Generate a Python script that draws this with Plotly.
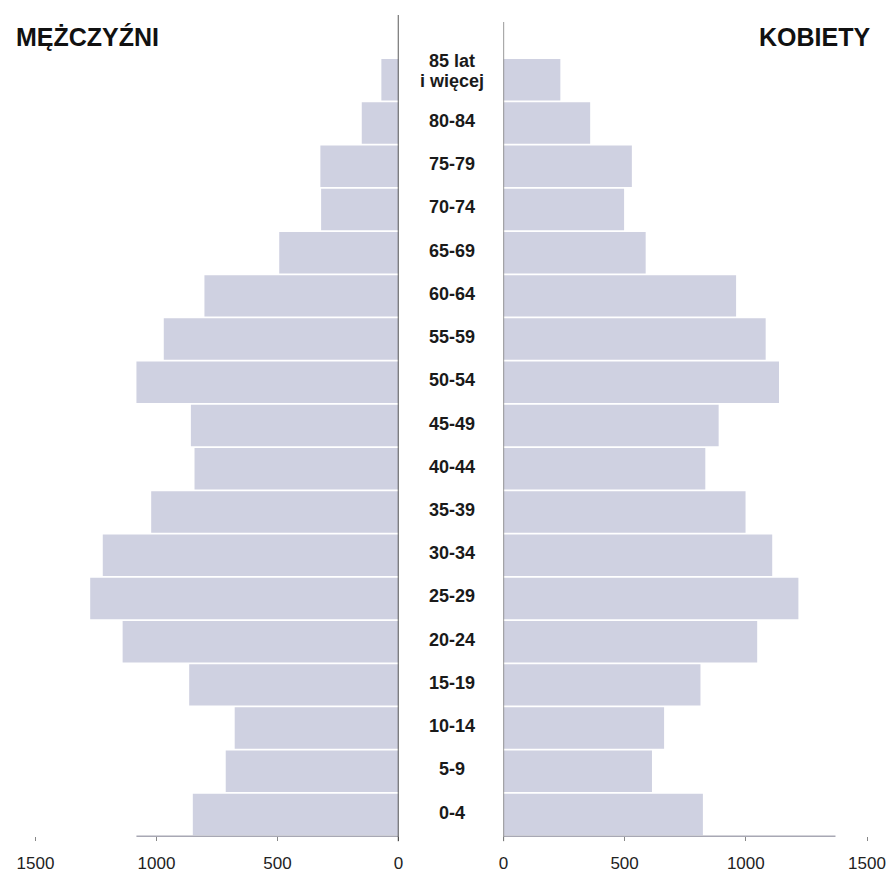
import plotly.graph_objects as go

age_groups = ["0-4", "5-9", "10-14", "15-19", "20-24", "25-29", "30-34", "35-39",
              "40-44", "45-49", "50-54", "55-59", "60-64", "65-69", "70-74", "75-79",
              "80-84", "85+"]
age_labels = ["0-4", "5-9", "10-14", "15-19", "20-24", "25-29", "30-34", "35-39",
              "40-44", "45-49", "50-54", "55-59", "60-64", "65-69", "70-74", "75-79",
              "80-84", "85 lat<br>i więcej"]
men = [850, 714, 677, 865, 1140, 1274, 1222, 1022, 843, 858, 1083, 970, 802, 493,
       320, 323, 152, 71]
women = [823, 613, 663, 813, 1047, 1217, 1109, 999, 833, 888, 1137, 1082, 960, 587,
         498, 530, 358, 235]
tick_vals = [0, 500, 1000, 1500]
tick_text = ["0", "500", "1000", "1500"]
title_men = "MĘŻCZYŹNI"
title_women = "KOBIETY"

W, H = 896, 873
BAR = "#cfd1e1"
FONT = "Liberation Sans, Arial, sans-serif"

def px_x(p):
    return p / W

def px_y(p):
    return (H - p) / H

fig = go.Figure()
fig.add_trace(go.Bar(y=age_groups, x=men, orientation="h", xaxis="x", yaxis="y",
                     marker=dict(color=BAR, line=dict(width=0)), showlegend=False,
                     hoverinfo="skip"))
fig.add_trace(go.Bar(y=age_groups, x=women, orientation="h", xaxis="x2", yaxis="y2",
                     marker=dict(color=BAR, line=dict(width=0)), showlegend=False,
                     hoverinfo="skip"))

y_dom = [px_y(840), px_y(15)]
common_x = dict(tickvals=tick_vals, ticktext=tick_text, ticks="outside", ticklen=4,
                tickcolor="#888", tickwidth=1, showgrid=False, zeroline=False,
                showline=False, tickfont=dict(family=FONT, size=17, color="#222"),
                ticklabelstandoff=7)
common_y = dict(type="category", categoryorder="array", categoryarray=age_groups,
                range=[-0.5, 18.5], showticklabels=False, ticks="", showgrid=False,
                zeroline=False, showline=False, domain=y_dom)

fig.update_layout(
    width=W, height=H, margin=dict(l=0, r=0, t=0, b=0),
    paper_bgcolor="white", plot_bgcolor="white", bargap=0.04,
    xaxis=dict(domain=[0, px_x(398)], range=[1626, 0], anchor="y", **common_x),
    xaxis2=dict(domain=[px_x(504), 1], range=[0, 1599], anchor="y2", **common_x),
    yaxis=dict(anchor="x", **common_y),
    yaxis2=dict(anchor="x2", **common_y),
)

# axis lines
fig.add_shape(type="line", xref="x", yref="paper", x0=1083, x1=0,
              y0=px_y(840), y1=px_y(840), line=dict(color="#a8a8b4", width=1.5))
fig.add_shape(type="line", xref="x2", yref="paper", x0=0, x1=1370,
              y0=px_y(840), y1=px_y(840), line=dict(color="#a8a8b4", width=1.5))
fig.add_shape(type="line", xref="x", yref="paper", x0=0, x1=0,
              y0=px_y(845), y1=px_y(15), line=dict(color="#222", width=1.5))
fig.add_shape(type="line", xref="x2", yref="paper", x0=0, x1=0,
              y0=px_y(845), y1=px_y(22), line=dict(color="#777", width=1.5))

# age labels in the middle
for g, lab in zip(age_groups, age_labels):
    lines = lab.split("<br>")
    shifts = [2] if len(lines) == 1 else [19, -1]
    for line_txt, sh in zip(lines, shifts):
        fig.add_annotation(x=px_x(452), xref="paper", y=g, yref="y", text=line_txt,
                           showarrow=False, xanchor="center", yanchor="middle",
                           yshift=sh, borderpad=0,
                           font=dict(family=FONT, size=18, color="#1a1a1a", weight="bold"))

fig.add_annotation(x=px_x(9), xref="paper", y=px_y(37), yref="paper", text=title_men,
                   showarrow=False, xanchor="left", yanchor="middle",
                   font=dict(family=FONT, size=25, color="#111", weight="bold"))
fig.add_annotation(x=px_x(877), xref="paper", y=px_y(37), yref="paper", text=title_women,
                   showarrow=False, xanchor="right", yanchor="middle",
                   font=dict(family=FONT, size=25, color="#111", weight="bold"))

fig.write_html("out.html", config={"displayModeBar": False},
               post_script="document.body.style.margin='0';document.body.style.overflow='hidden';")
